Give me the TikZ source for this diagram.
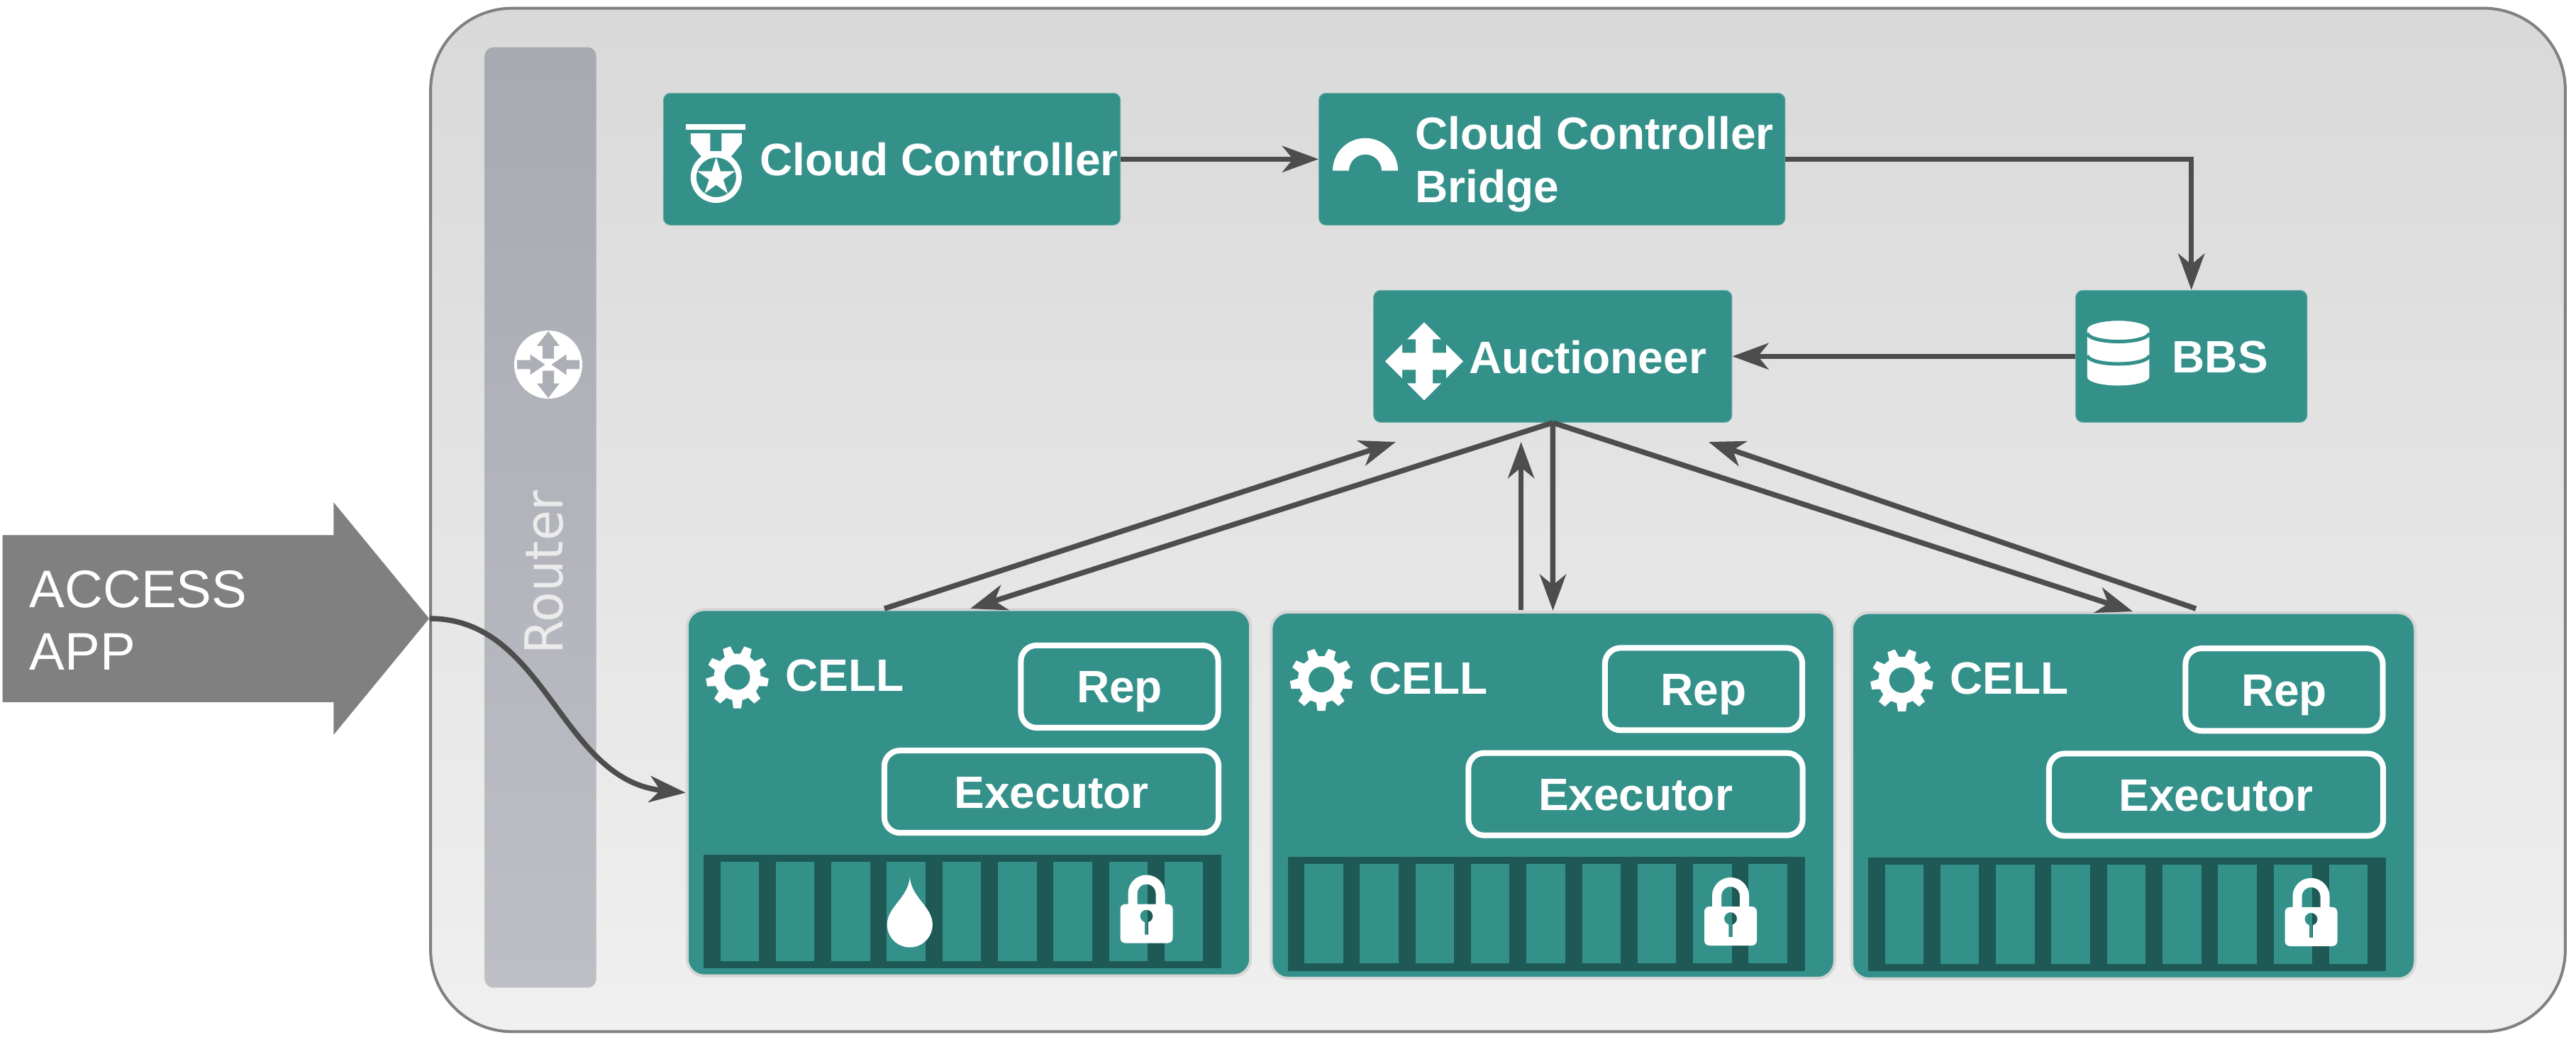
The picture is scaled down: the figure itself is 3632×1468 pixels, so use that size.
\documentclass[tikz,border=0pt]{standalone}
\usepackage{fontspec}
\setmainfont{Liberation Sans}
\newfontfamily\routerfont{DejaVu Sans}
\usetikzlibrary{arrows.meta,shapes.arrows}

\definecolor{boxteal}{HTML}{34918A}
\definecolor{slotdark}{HTML}{1F5956}
\definecolor{linegray}{HTML}{4D4D4D}
\definecolor{framegray}{HTML}{808080}
\definecolor{routergray}{HTML}{ADAFB7}

\tikzset{
    boxfont/.style={font=\fontsize{18.2}{21.5}\selectfont\bfseries, text=white},
    topbox/.style={rectangle, draw=boxteal!75!white, line width=0.01cm, fill=boxteal,
                   rounded corners=0.1cm, inner sep=0pt, minimum height=1.86cm},
    boxtext/.style={boxfont, inner sep=0pt, anchor=base west, align=left},
    accessfont/.style={anchor=base west, inner sep=0pt, text=white, font=\fontsize{21.2}{25}\selectfont},
    cellbox/.style={rectangle, draw=black!16, line width=0.04cm, fill=boxteal,
                    rounded corners=0.24cm, inner sep=0pt,
                    minimum width=7.94cm, minimum height=5.16cm},
    partbox/.style={rectangle, draw=white, line width=0.08cm, boxfont,
                    rounded corners=0.22cm, inner sep=0pt, minimum height=1.16cm,
                    text height=0.46cm, text depth=0pt},
    arrow/.style={-{Stealth[length=0.51cm,width=0.37cm,inset=0.15cm]},
                  line width=0.075cm, draw=linegray},
    pics/gearicon/.style={code={
        \fill[white,even odd rule] (0,0) circle (33) (0,0) circle (18);
        \foreach \a in {-90,-50,...,230}
            \fill[white,rotate=\a] (30,-7.5) -- (44,-5.5) -- (44,5.5) -- (30,7.5) -- cycle;
    }},
    pics/lockicon/.style={code={
        \draw[white,line width=0.13cm] (-19.5,-10) -- (-19.5,-30) arc (180:360:19.5) -- (19.5,-10);
        \fill[white,even odd rule,rounded corners=0.07cm] (-37,-15) rectangle (37,40)
            [sharp corners] (2.7,10.6) arc (72.5:-252.5:9) -- (-2.7,28) -- (2.7,28) -- cycle;
    }},
    pics/medalicon/.style={code={
        \fill[white] (-42.5,-75) rectangle (41.5,-67);
        \fill[white] (-36,-62) -- (-8.5,-62) -- (-8.5,-37) -- (7.5,-37) -- (7.5,-62) -- (36,-62)
            -- (36,-48) -- (20,-28) -- (-20,-28) -- (-36,-48) -- cycle;
        \fill[white,even odd rule] (0,0) circle (36) (0,0) circle (28);
        \fill[white] (-90:28) -- (-54:10.5) -- (-18:28) -- (18:10.5) -- (54:28) -- (90:10.5)
            -- (126:28) -- (162:10.5) -- (198:28) -- (234:10.5) -- cycle;
    }},
    pics/archicon/.style={code={
        \fill[white] (-46,0) arc (180:360:46) -- (23,0) arc (360:180:23) -- cycle;
    }},
    pics/moveicon/.style={code={
        \fill[white] (0,-55) -- (24,-31) -- (12,-31) -- (12,-12) -- (31,-12) -- (31,-24) -- (55,0)
            -- (31,24) -- (31,12) -- (12,12) -- (12,31) -- (24,31) -- (0,55) -- (-24,31)
            -- (-12,31) -- (-12,12) -- (-31,12) -- (-31,24) -- (-55,0) -- (-31,-24)
            -- (-31,-12) -- (-12,-12) -- (-12,-31) -- (-24,-31) -- cycle;
    }},
    pics/dbicon/.style={code={
        \fill[white] (-43.7,0) -- (-43.7,67) arc (180:0:43.7 and 12) -- (43.7,0)
            arc (0:-180:43.7 and 12) -- cycle;
        \draw[boxteal,line width=0.05cm] (-43.7,5) arc (180:0:43.7 and 12);
        \draw[boxteal,line width=0.05cm] (-43.7,36.5) arc (180:0:43.7 and 12);
        \fill[white] (0,0) ellipse (41 and 12.2);
    }},
    pics/routericon/.style={code={
        \fill[white] (0,0) circle (48);
        \foreach \a in {0,180} {
            \fill[routergray,rotate=\a] (0,-47) -- (16,-26.5) -- (8,-26.5) -- (8,-8.5)
                -- (-8,-8.5) -- (-8,-26.5) -- (-16,-26.5) -- cycle;
            \fill[routergray,rotate=\a] (-4.5,0) -- (-25.5,-14.5) -- (-25.5,-6.4) -- (-44,-6.4)
                -- (-44,6.4) -- (-25.5,6.4) -- (-25.5,14.5) -- cycle;
        }
    }}
}

\begin{document}
\begin{tikzpicture}[x=0.01cm,y=-0.01cm]
    \useasboundingbox (0,0) rectangle (3632,1468);

    % Fondo and router bar
    \node[rectangle, draw=framegray, line width=0.04cm, top color=black!15, bottom color=black!6,
          rounded corners=1.15cm, inner sep=0pt, minimum width=30.08cm, minimum height=14.42cm] (platform) at (2112,733) {};
    \node[rectangle, top color=routergray!97!black, bottom color=routergray!80!white,
          rounded corners=0.12cm, inner sep=0pt, minimum width=1.57cm, minimum height=13.25cm] (routerbar) at (762,729.5) {};
    \pic at (773,514) {routericon};
    \node[transform shape, rotate=90, xscale=0.945, anchor=base, inner sep=0pt, text=black!8,
          font=\routerfont\fontsize{21}{24}\selectfont] (routerlabel) at (793,807) {Router};

    % Access arrow
    \node[single arrow, fill=framegray, anchor=tip, inner xsep=0pt, inner ysep=1.17cm, minimum height=6.01cm,
          single arrow head extend=0.46cm, single arrow tip angle=101.16, single arrow head indent=0pt] (access) at (606,872) {};
    \node[accessfont] (accesstext) at (41,856.6) {ACCESS};
    \node[accessfont] (apptext) at (41,944) {APP};

    % Top row
    \node[topbox, minimum width=6.44cm] (cloud) at (1257.5,224.3) {};
    \pic at (1009.8,250) {medalicon};
    \node[boxtext] (cloudtext) at (1071,247.7) {Cloud Controller};

    \node[topbox, minimum width=6.57cm] (bridge) at (2188.2,224.3) {};
    \pic at (1925,240.7) {archicon};
    \node[boxtext] (bridgetext) at (1995,210) {Cloud Controller};
    \node[boxtext] (bridgetextb) at (1995,285.7) {Bridge};

    \node[topbox, minimum width=5.05cm] (auctioneer) at (2189.3,502.3) {};
    \pic at (2008,509.3) {moveicon};
    \node[boxtext] (auctioneertext) at (2071,526) {Auctioneer};

    \node[topbox, minimum width=3.26cm] (bbs) at (3089.7,502.3) {};
    \pic at (2986.6,464.5) {dbicon};
    \node[boxtext] (bbstext) at (3062,525) {BBS};

    % Cells
    \foreach \cname/\cx/\cy in {cellA/968.5/859.5, cellB/1792/863, cellC/2610.5/863.8} {
        \begin{scope}[shift={(\cx,\cy)}]
            \node[cellbox] (\cname) at (397.5,258) {};
            \pic at (71,95) {gearicon};
            \node[boxtext] (\cname text) at (138,115) {CELL};
            \node[partbox, minimum width=2.78cm] (\cname rep) at (610,108.4) {Rep};
            \node[partbox, minimum width=4.71cm] (\cname exec) at (514,256.6) {Executor};
            \fill[slotdark] (23.5,345) rectangle (753,505.5);
            \foreach \s in {0,...,8}
                \fill[boxteal] ({47+78.3*\s},355) rectangle ++(54.5,140);
            \pic at (648,430) {lockicon};
        \end{scope}
    }
    \fill[white] (1282.8,1236.4) .. controls (1285,1266) and (1314.8,1278) .. (1314.8,1303.5)
        arc (0:180:32) .. controls (1250.8,1278) and (1280.8,1266) .. cycle;

    % Free ends of the arrows
    \coordinate (cellAup) at (1247,858);
    \coordinate (auctA) at (1968,623);
    \coordinate (cellAdown) at (1368,858);
    \coordinate (cellBup) at (2144.6,860);
    \coordinate (auctB) at (2144.6,623);
    \coordinate (cellCdown) at (3007,862);
    \coordinate (cellCup) at (3096,858);
    \coordinate (auctC) at (2409,623);

    % Flechas
    \draw[arrow] (cloud.east) -- (bridge.west);
    \draw[arrow] (bridge.east) -| (bbs.north);
    \draw[arrow] (bbs.west) -- (auctioneer.east);
    \draw[arrow] (cellAup) -- (auctA);
    \draw[arrow] (auctioneer.south) -- (cellAdown);
    \draw[arrow] (cellBup) -- (auctB);
    \draw[arrow] (auctioneer.south) -- (cellB.north);
    \draw[arrow] (auctioneer.south) -- (cellCdown);
    \draw[arrow] (cellCup) -- (auctC);
    \draw[arrow] (access.tip) .. controls (770,872) and (790,1100) .. (cellA.west);

\end{tikzpicture}
\end{document}
